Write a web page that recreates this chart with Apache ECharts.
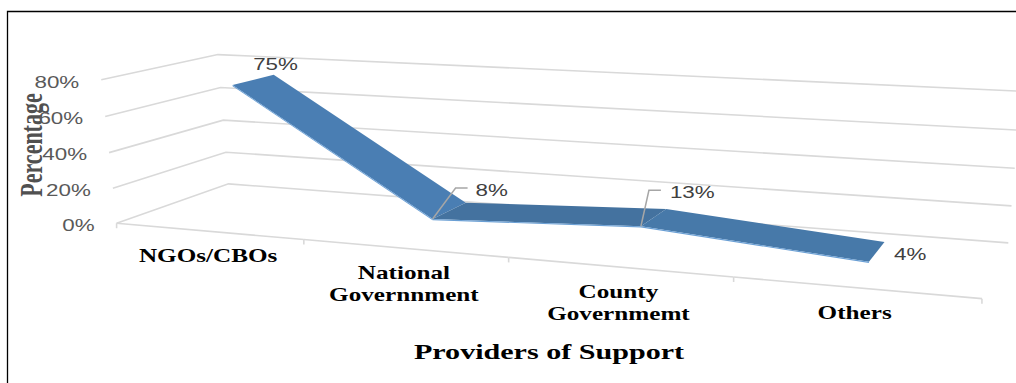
<!DOCTYPE html>
<html>
<head>
<meta charset="utf-8">
<script src="https://cdn.jsdelivr.net/npm/echarts@6/dist/echarts.min.js"></script>
<style>
  html, body { margin: 0; padding: 0; background: #ffffff; }
  #chart { width: 1016px; height: 383px; }
</style>
</head>
<body>
<div id="chart"></div>
<script>
// ---------------- data ----------------
const categories = ['NGOs/CBOs', 'National\nGovernnment', 'County\nGovernmemt', 'Others'];
const values = [75, 8, 13, 4];              // percent
const yTicks = [0, 20, 40, 60, 80];          // percent
const yMax = 80;
const xTitle = 'Providers of Support';
const yTitle = 'Percentage';

// ---------------- layout (perspective box calibration, styles) ----------------
// [a (0..1 along categories), b (0..1 along value axis), w (0 front .. 1 back), px, py]
const calib = [
  [0, 0, 0, 117, 223], [0.25, 0, 0, 304, 241], [0.5, 0, 0, 509, 258], [0.75, 0, 0, 733, 278], [1, 0, 0, 982, 298],
  [0, 0.25, 0, 113, 187], [0, 0.5, 0, 108, 152], [0, 0.75, 0, 105, 116], [0, 1, 0, 102, 80],
  [0, 0, 1, 228, 184], [0, 0.25, 1, 227, 152], [0, 0.5, 1, 223, 120], [0, 0.75, 1, 220, 88], [0, 1, 1, 218, 55],
  [1, 0, 1, 1008, 242], [1, 0.25, 1, 1012, 206]
];
const ribbon = { w0: 0.31, w1: 0.69, thick: 0.008 };
const segColors = ['#4A7EB3', '#44729F', '#4779A9'];
const frontColor = '#6A9FD4';
const gridColor = '#D9D9D9';
const SX = 1.4;   // horizontal stretch of the original picture's text
// label offsets relative to the front point of the ribbon
const labelLayout = [
  { dx: 43, dy: -21, align: 'center' },
  { dx: 43, dy: -29, align: 'left', leader: [[23, -31], [35, -31]] },
  { dx: 29, dy: -34, align: 'left', leader: [[8, -36], [20, -36]] },
  { dx: 25, dy: -8, align: 'left' }
];

// ---------------- projection (DLT least squares) ----------------
function fitProjection(pts) {
  const n = 11;
  const M = Array.from({ length: n }, () => new Array(n).fill(0));
  const r = new Array(n).fill(0);
  const add = (row, val) => {
    for (let i = 0; i < n; i++) {
      r[i] += row[i] * val;
      for (let j = 0; j < n; j++) M[i][j] += row[i] * row[j];
    }
  };
  pts.forEach(([a, b, w, x, y]) => {
    x /= 100; y /= 100;
    add([a, b, w, 1, 0, 0, 0, 0, -x * a, -x * b, -x * w], x);
    add([0, 0, 0, 0, a, b, w, 1, -y * a, -y * b, -y * w], y);
  });
  for (let k = 0; k < n; k++) {
    let p = k;
    for (let i = k + 1; i < n; i++) if (Math.abs(M[i][k]) > Math.abs(M[p][k])) p = i;
    [M[k], M[p]] = [M[p], M[k]]; [r[k], r[p]] = [r[p], r[k]];
    for (let i = k + 1; i < n; i++) {
      const f = M[i][k] / M[k][k];
      for (let j = k; j < n; j++) M[i][j] -= f * M[k][j];
      r[i] -= f * r[k];
    }
  }
  const p = new Array(n).fill(0);
  for (let i = n - 1; i >= 0; i--) {
    let s = r[i];
    for (let j = i + 1; j < n; j++) s -= M[i][j] * p[j];
    p[i] = s / M[i][i];
  }
  return p;
}
const P = fitProjection(calib);
function proj(a, b, w) {
  const d = P[8] * a + P[9] * b + P[10] * w + 1;
  return [100 * (P[0] * a + P[1] * b + P[2] * w + P[3]) / d,
          100 * (P[4] * a + P[5] * b + P[6] * w + P[7]) / d];
}
function norm(pt, cs) {
  return [(pt[0] - cs.x) / cs.width, (cs.y + cs.height - pt[1]) / cs.height];
}

const sansFont = '"Liberation Sans", Arial, sans-serif';
const serifFont = '"Liberation Serif", "Times New Roman", serif';

// ---------------- render items ----------------
function wallItem(params, api) {
  const cs = params.coordSys;
  const t = api.value(1);
  const b = norm(api.coord([0, t]), cs)[1];
  const p0 = proj(0, b, 0), p1 = proj(0, b, 1), p2 = proj(1, b, 1);
  return {
    type: 'group',
    children: [
      { type: 'polyline', shape: { points: [p0, p1, p2] },
        style: { stroke: gridColor, lineWidth: 1.6, fill: null } },
      { type: 'text', x: p0[0] - 22, y: p0[1] + 2, scaleX: SX,
        style: { text: t + '%', fill: '#595959', fontSize: 16, fontFamily: sansFont,
                 align: 'right', verticalAlign: 'middle' } }
    ]
  };
}

function floorItem(params, api) {
  const cs = params.coordSys;
  const i = api.value(0);
  const c = api.coord([i, 0]);
  const bw = api.size([1, 0])[0];
  const a0 = norm([c[0] - bw / 2, c[1]], cs)[0];
  const a1 = norm([c[0] + bw / 2, c[1]], cs)[0];
  const am = norm(c, cs)[0];
  const f0 = proj(a0, 0, 0), f1 = proj(a1, 0, 0), fm = proj(am, 0, 0);
  const children = [
    { type: 'line', shape: { x1: f0[0], y1: f0[1], x2: f1[0], y2: f1[1] },
      style: { stroke: gridColor, lineWidth: 1.6 } },
    { type: 'line', shape: { x1: f0[0], y1: f0[1], x2: f0[0], y2: f0[1] + 5 },
      style: { stroke: gridColor, lineWidth: 1.6 } },
    { type: 'text', x: fm[0], y: fm[1] + 14, scaleX: SX,
      style: { text: categories[params.dataIndex], fill: '#000000', fontSize: 18,
               fontWeight: 'bold', fontFamily: serifFont, lineHeight: 22,
               align: 'center', verticalAlign: 'top' } }
  ];
  if (params.dataIndex === categories.length - 1) {
    children.push({ type: 'line', shape: { x1: f1[0], y1: f1[1], x2: f1[0], y2: f1[1] + 5 },
      style: { stroke: gridColor, lineWidth: 1.6 } });
  }
  return { type: 'group', children };
}

function ribbonItem(params, api) {
  const idx = params.dataIndex;
  if (idx >= values.length - 1) return { type: 'group', children: [] };
  const cs = params.coordSys;
  const A = norm(api.coord([idx, values[idx]]), cs);
  const B = norm(api.coord([idx + 1, values[idx + 1]]), cs);
  const fa = proj(A[0], A[1], ribbon.w0), fb = proj(B[0], B[1], ribbon.w0);
  const ba = proj(A[0], A[1], ribbon.w1), bb = proj(B[0], B[1], ribbon.w1);
  const fa2 = proj(A[0], A[1] - ribbon.thick, ribbon.w0), fb2 = proj(B[0], B[1] - ribbon.thick, ribbon.w0);
  return {
    type: 'group',
    children: [
      { type: 'polygon', shape: { points: [fa, fb, bb, ba] }, style: { fill: segColors[idx] } },
      { type: 'polygon', shape: { points: [fa, fb, fb2, fa2] }, style: { fill: frontColor } }
    ]
  };
}

function labelItem(params, api) {
  const idx = params.dataIndex;
  const cs = params.coordSys;
  const v = api.value(1);
  const A = norm(api.coord([idx, v]), cs);
  const f = proj(A[0], A[1], ribbon.w0);
  const L = labelLayout[idx];
  const children = [];
  if (L.leader) {
    const pts = [f].concat(L.leader.map(o => [f[0] + o[0], f[1] + o[1]]));
    children.push({ type: 'polyline', shape: { points: pts },
      style: { stroke: '#A6A6A6', lineWidth: 1.5, fill: null } });
  }
  children.push({ type: 'text', x: f[0] + L.dx, y: f[1] + L.dy, scaleX: SX,
    style: { text: v + '%', fill: '#404040', fontSize: 16, fontFamily: sansFont,
             align: L.align, verticalAlign: 'middle' } });
  return { type: 'group', children };
}

// ---------------- chart ----------------
const chart = echarts.init(document.getElementById('chart'), null, { renderer: 'svg' });
chart.setOption({
  animation: false,
  backgroundColor: '#ffffff',
  grid: { left: 100, right: 100, top: 60, bottom: 60, show: false },
  xAxis: { type: 'category', data: categories, show: false },
  yAxis: { type: 'value', min: 0, max: yMax, interval: 20, show: false },
  graphic: [
    { type: 'polyline', shape: { points: [[7.5, 383], [7.5, 11.5], [1016, 11.5]] },
      style: { stroke: '#000000', lineWidth: 1.3, fill: null } },
    { type: 'text', x: 549, y: 352, scaleX: SX,
      style: { text: xTitle, fill: '#000000', fontSize: 21.5, fontWeight: 'bold',
               fontFamily: serifFont, align: 'center', verticalAlign: 'middle' } },
    { type: 'text', x: 32, y: 145, rotation: Math.PI / 2, scaleY: SX,
      style: { text: yTitle, fill: '#505050', fontSize: 22, fontWeight: 'bold',
               fontFamily: serifFont, align: 'center', verticalAlign: 'middle' } }
  ],
  series: [
    { type: 'custom', name: 'walls', silent: true, z: 1, data: yTicks.map(t => [0, t]), renderItem: wallItem },
    { type: 'custom', name: 'floor', silent: true, z: 1, data: categories.map((c, i) => [i, 0]), renderItem: floorItem },
    { type: 'custom', name: 'Percentage', z: 3, data: values.map((v, i) => [i, v]), renderItem: ribbonItem },
    { type: 'custom', name: 'labels', silent: true, z: 4, data: values.map((v, i) => [i, v]), renderItem: labelItem }
  ]
});
</script>
</body>
</html>
